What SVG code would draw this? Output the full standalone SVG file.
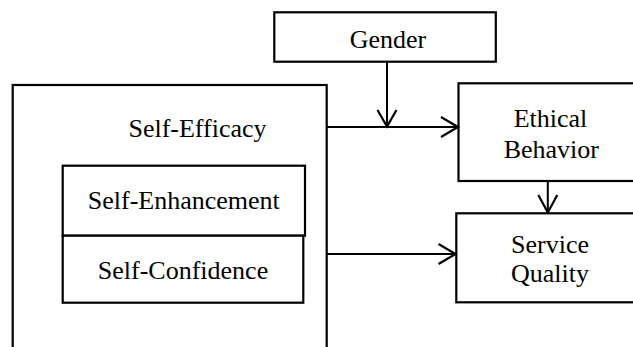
<svg xmlns="http://www.w3.org/2000/svg" width="633" height="347" viewBox="0 0 633 347">
<style>
.box{fill:#fff;stroke:#000;stroke-width:2.2}
.t{font-family:"Liberation Serif","Times New Roman",serif;font-size:26px;fill:#000;text-anchor:middle}
.c{stroke:#000;stroke-width:2;fill:none}
.h{stroke:#000;stroke-width:2.2;fill:none}
</style>
<g id="self-efficacy">
<rect class="box" x="12.7" y="85" width="314" height="280"/>
<text class="t" x="197.5" y="136.7">Self-Efficacy</text>
</g>
<g id="self-enhancement">
<rect class="box" x="62.7" y="165.7" width="242.3" height="70"/>
<text class="t" x="183.8" y="209.3">Self-Enhancement</text>
</g>
<g id="self-confidence">
<rect class="box" x="62.7" y="235.7" width="240.6" height="67"/>
<text class="t" x="183" y="279.3">Self-Confidence</text>
</g>
<g id="gender">
<rect class="box" x="274.3" y="12.3" width="221.5" height="49.4"/>
<text class="t" x="388" y="48.3">Gender</text>
</g>
<g id="ethical-behavior">
<rect class="box" x="458.5" y="83.3" width="190" height="97.7"/>
<text class="t" x="550.5" y="126.7">Ethical</text>
<text class="t" x="551.3" y="158.3">Behavior</text>
</g>
<g id="service-quality">
<rect class="box" x="456.3" y="213.3" width="190" height="89"/>
<text class="t" x="550" y="252.7">Service</text>
<text class="t" x="550" y="282.3">Quality</text>
</g>
<g id="connectors">
<line class="c" x1="327" y1="127" x2="458" y2="127"/>
<polyline class="h" points="441,117 458,127 441,137"/>
<line class="c" x1="387" y1="62" x2="387" y2="126"/>
<polyline class="h" points="377.5,110 387,126.5 396.5,110"/>
<line class="c" x1="547.8" y1="181" x2="547.8" y2="212.5"/>
<polyline class="h" points="538.3,195 547.8,212.5 557.3,195"/>
<line class="c" x1="326" y1="254" x2="455.5" y2="254"/>
<polyline class="h" points="438.5,244 455.5,254 438.5,264"/>
</g>
</svg>
